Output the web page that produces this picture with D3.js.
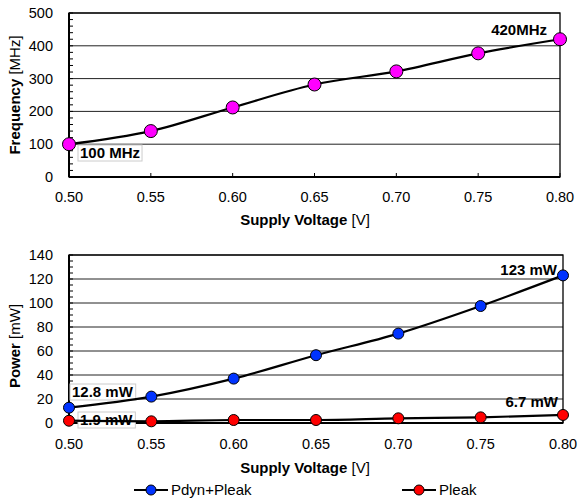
<!DOCTYPE html>
<html>
<head>
<meta charset="utf-8">
<script src="https://cdn.jsdelivr.net/npm/d3@7"></script>
<style>
  body { margin: 0; background: #fff; }
  svg { display: block; font-family: "Liberation Sans", Arial, sans-serif; }
</style>
</head>
<body>
<div class="canvas"></div>
<script>
const voltages = [0.50, 0.55, 0.60, 0.65, 0.70, 0.75, 0.80]
const frequency = [100, 140, 212, 282, 322, 377, 420]
const pdynPleak = [12.8, 22, 37, 56.5, 74.5, 97.5, 123]
const pleak = [1.9, 1.4, 2.5, 2.5, 3.9, 4.7, 6.7]
const xTicks = [0.50, 0.55, 0.60, 0.65, 0.70, 0.75, 0.80]
const freqTicks = [0, 100, 200, 300, 400, 500]
const powerTicks = [0, 20, 40, 60, 80, 100, 120, 140]

const svg = d3.select('.canvas').append('svg')
  .attr('width', 579)
  .attr('height', 504)

const drawPanel = ({left, right, top, bottom, yMax, yTicks, minorStep, yTitle, titleY, tickLabelY, xTitleY}) => {
  const x = d3.scaleLinear().domain([0.5, 0.8]).range([left, right])
  const y = d3.scaleLinear().domain([0, yMax]).range([bottom, top])
  const g = svg.append('g')

  // gridlines
  g.selectAll('.grid').data(yTicks.slice(1)).enter().append('line')
    .attr('x1', left).attr('x2', right)
    .attr('y1', d => y(d)).attr('y2', d => y(d))
    .attr('stroke', '#222').attr('stroke-width', 1)

  // frame
  g.append('rect')
    .attr('x', left).attr('y', top)
    .attr('width', right - left).attr('height', bottom - top)
    .attr('fill', 'none').attr('stroke', '#000').attr('stroke-width', 1.3)
  g.append('line').attr('x1', left).attr('x2', left).attr('y1', top).attr('y2', bottom)
    .attr('stroke', '#000').attr('stroke-width', 2)
  g.append('line').attr('x1', left).attr('x2', right).attr('y1', bottom).attr('y2', bottom)
    .attr('stroke', '#000').attr('stroke-width', 2)

  // minor y ticks (inside)
  g.selectAll('.minor').data(d3.range(0, yMax + 0.001, minorStep)).enter().append('line')
    .attr('x1', left).attr('x2', left + 4)
    .attr('y1', d => y(d)).attr('y2', d => y(d))
    .attr('stroke', '#000').attr('stroke-width', 1)

  // x ticks (inside)
  g.selectAll('.xtick').data(xTicks).enter().append('line')
    .attr('x1', d => x(d)).attr('x2', d => x(d))
    .attr('y1', bottom).attr('y2', bottom - 4)
    .attr('stroke', '#000').attr('stroke-width', 1)

  g.selectAll('.xlab').data(xTicks).enter().append('text')
    .attr('x', d => x(d)).attr('y', tickLabelY)
    .attr('text-anchor', 'middle').attr('font-size', 14.5)
    .text(d => d.toFixed(2))

  g.selectAll('.ylab').data(yTicks).enter().append('text')
    .attr('x', left - 16).attr('y', d => y(d) + 5)
    .attr('text-anchor', 'end').attr('font-size', 14.5)
    .text(d => d)

  const xt = g.append('text')
    .attr('x', 305).attr('y', xTitleY)
    .attr('text-anchor', 'middle').attr('font-size', 15)
  xt.append('tspan').attr('font-weight', 'bold').text('Supply Voltage ')
  xt.append('tspan').text('[V]')

  const [bold, rest] = yTitle
  const yt = g.append('text')
    .attr('transform', `translate(20, ${titleY}) rotate(-90)`)
    .attr('text-anchor', 'middle').attr('font-size', 15)
  yt.append('tspan').attr('font-weight', 'bold').text(bold)
  yt.append('tspan').text(rest)

  return {x, y, g}
}

const addSeries = (panel, values, color, r) => {
  const pts = voltages.map((v, i) => [v, values[i]])
  const line = d3.line().x(d => panel.x(d[0])).y(d => panel.y(d[1])).curve(d3.curveMonotoneX)
  panel.g.append('path').attr('d', line(pts))
    .attr('fill', 'none').attr('stroke', '#000').attr('stroke-width', 2.2)
  panel.g.selectAll(null).data(pts).enter().append('circle')
    .attr('cx', d => panel.x(d[0])).attr('cy', d => panel.y(d[1]))
    .attr('r', r).attr('fill', color).attr('stroke', '#000').attr('stroke-width', 1)
}

const addLabel = (panel, text, xPos, yPos, anchor, box) => {
  const t = panel.g.append('text')
    .attr('x', xPos).attr('y', yPos)
    .attr('text-anchor', anchor).attr('font-size', 15).attr('font-weight', 'bold')
    .text(text)
  if (box) {
    const b = t.node().getBBox()
    panel.g.insert('rect', () => t.node())
      .attr('x', b.x - 2).attr('y', b.y + 1)
      .attr('width', b.width + 4).attr('height', b.height - 1)
      .attr('fill', '#fff').attr('stroke', '#ccc').attr('stroke-width', 1)
  }
}

// top: frequency
const freqPanel = drawPanel({
  left: 69, right: 560, top: 13, bottom: 177, yMax: 500,
  yTicks: freqTicks, minorStep: 20,
  yTitle: ['Frequency ', '[MHz]'], titleY: 95,
  tickLabelY: 202, xTitleY: 225
})
addLabel(freqPanel, '100 MHz', 80, 158, 'start', true)
addSeries(freqPanel, frequency, '#ff00ff', 6.5)
addLabel(freqPanel, '420MHz', 547, 35, 'end', false)

// bottom: power
const powerPanel = drawPanel({
  left: 69, right: 563, top: 255, bottom: 423, yMax: 140,
  yTicks: powerTicks, minorStep: 5,
  yTitle: ['Power ', '[mW]'], titleY: 346,
  tickLabelY: 449, xTitleY: 473
})
addLabel(powerPanel, '12.8 mW', 72, 397, 'start', true)
addLabel(powerPanel, '1.9 mW', 80, 425, 'start', true)
addSeries(powerPanel, pdynPleak, '#0033ff', 5.5)
addSeries(powerPanel, pleak, '#ff0000', 5.5)
addLabel(powerPanel, '123 mW', 557, 275, 'end', false)
addLabel(powerPanel, '6.7 mW', 558, 407, 'end', false)

// legend
const legend = [
  {name: 'Pdyn+Pleak', color: '#0033ff', x: 134},
  {name: 'Pleak', color: '#ff0000', x: 402}
]
const lg = svg.append('g').selectAll('g').data(legend).enter().append('g')
  .attr('transform', d => `translate(${d.x}, 490)`)
lg.append('line').attr('x1', 0).attr('x2', 34).attr('stroke', '#000').attr('stroke-width', 2.2)
lg.append('circle').attr('cx', 17).attr('r', 5).attr('fill', d => d.color).attr('stroke', '#000')
lg.append('text').attr('x', 37).attr('y', 5).attr('font-size', 15).text(d => d.name)
</script>
</body>
</html>
